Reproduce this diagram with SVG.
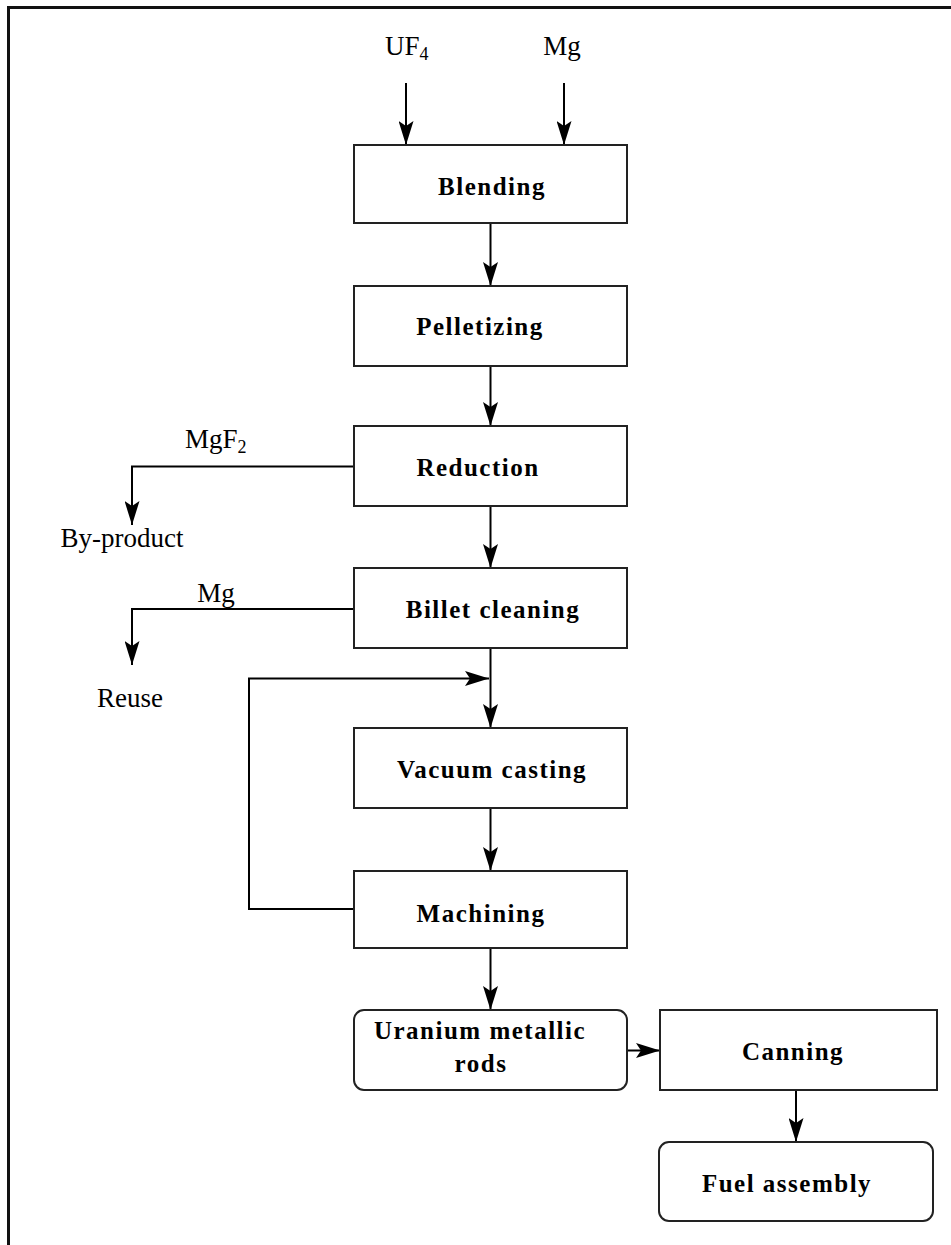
<svg xmlns="http://www.w3.org/2000/svg" width="951" height="1245" viewBox="0 0 951 1245">
<style>
.box{fill:#fff;stroke:#222;stroke-width:2}
.ln{fill:none;stroke:#000;stroke-width:2}
.bt{font-family:"Liberation Serif","Times New Roman",serif;font-weight:bold;font-size:25px;letter-spacing:1.5px;fill:#000;text-anchor:middle}
.lt{font-family:"Liberation Serif","Times New Roman",serif;font-size:27px;fill:#000}
</style>
<defs>
<marker id="ah" markerUnits="userSpaceOnUse" viewBox="0 0 24 15" refX="24" refY="7.5" markerWidth="24" markerHeight="15" orient="auto">
<path d="M0,0 L24,7.5 L0,15 L5,7.5 Z" fill="#000"/>
</marker>
</defs>
<rect width="951" height="1245" fill="#fff"/>
<path d="M8.5,1245 V7.5 H951" fill="none" stroke="#111" stroke-width="3"/>

<g id="labels">
<text class="lt" x="385" y="55">UF<tspan font-size="18" dy="5">4</tspan></text>
<text class="lt" x="562" y="55" text-anchor="middle">Mg</text>
<text class="lt" x="185" y="448">MgF<tspan font-size="18" dy="5">2</tspan></text>
<text class="lt" x="122" y="547" text-anchor="middle">By-product</text>
<text class="lt" x="216" y="602" text-anchor="middle">Mg</text>
<text class="lt" x="130" y="707" text-anchor="middle">Reuse</text>
</g>

<g id="connectors">
<line class="ln" x1="406" y1="83" x2="406" y2="145" marker-end="url(#ah)"/>
<line class="ln" x1="564" y1="83" x2="564" y2="145" marker-end="url(#ah)"/>
<line class="ln" x1="490.5" y1="223" x2="490.5" y2="286" marker-end="url(#ah)"/>
<line class="ln" x1="490.5" y1="366" x2="490.5" y2="426" marker-end="url(#ah)"/>
<line class="ln" x1="490.5" y1="506" x2="490.5" y2="568" marker-end="url(#ah)"/>
<line class="ln" x1="490.5" y1="648" x2="490.5" y2="728" marker-end="url(#ah)"/>
<line class="ln" x1="490.5" y1="808" x2="490.5" y2="871" marker-end="url(#ah)"/>
<line class="ln" x1="490.5" y1="948" x2="490.5" y2="1010" marker-end="url(#ah)"/>
<line class="ln" x1="627" y1="1050.5" x2="660" y2="1050.5" marker-end="url(#ah)"/>
<line class="ln" x1="796" y1="1090" x2="796" y2="1142" marker-end="url(#ah)"/>
<path class="ln" d="M354,466.5 H132 V525" marker-end="url(#ah)"/>
<path class="ln" d="M354,609 H132 V665" marker-end="url(#ah)"/>
<path class="ln" d="M354,909 H249 V678.5 H489" marker-end="url(#ah)"/>
</g>

<g id="blending"><rect class="box" x="354" y="145" width="273" height="78"/><text class="bt" x="492" y="195">Blending</text></g>
<g id="pelletizing"><rect class="box" x="354" y="286" width="273" height="80"/><text class="bt" x="480" y="335">Pelletizing</text></g>
<g id="reduction"><rect class="box" x="354" y="426" width="273" height="80"/><text class="bt" x="478" y="476">Reduction</text></g>
<g id="billet-cleaning"><rect class="box" x="354" y="568" width="273" height="80"/><text class="bt" x="493" y="618">Billet cleaning</text></g>
<g id="vacuum-casting"><rect class="box" x="354" y="728" width="273" height="80"/><text class="bt" x="492" y="778">Vacuum casting</text></g>
<g id="machining"><rect class="box" x="354" y="871" width="273" height="77"/><text class="bt" x="481" y="922">Machining</text></g>
<g id="uranium-rods"><rect class="box" x="354" y="1010" width="273" height="80" rx="10"/><text class="bt" x="480" y="1039">Uranium metallic</text><text class="bt" x="481" y="1072">rods</text></g>
<g id="canning"><rect class="box" x="660" y="1010" width="277" height="80"/><text class="bt" x="793" y="1060">Canning</text></g>
<g id="fuel-assembly"><rect class="box" x="659" y="1142" width="274" height="79" rx="10"/><text class="bt" x="787" y="1192">Fuel assembly</text></g>
</svg>
